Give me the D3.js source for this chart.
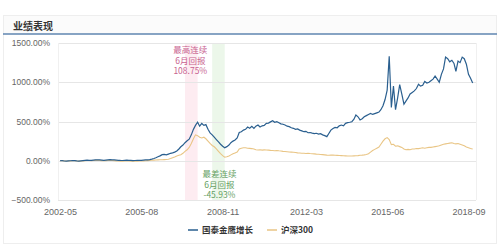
<!DOCTYPE html>
<html>
<head>
<meta charset="utf-8">
<script src="https://d3js.org/d3.v7.min.js"></script>
<style>
    body { margin: 0; background: #fff; }
    text { font-family: "Liberation Sans", "Noto Sans CJK SC", sans-serif; }
    .cjk { font-family: "Noto Sans CJK SC", sans-serif; }
</style>
</head>
<body>
<svg id="chart" width="500" height="250"></svg>
<script>
    // monthly points, 2002-05 .. 2018-11
    var startMonth = new Date(2002, 4, 1);
    var fundValues = [
        0,2,-3,-5,-2,0,3,1,-2,-4,-1,2,5,8,6,4,8,10,12,10,8,6,9,12,14,12,10,8,6,4,3,5,7,6,4,2,3,5,4,6,
        8,10,12,15,20,28,38,50,62,77,
        80,75,85,95,100,110,125,150,178,
        200,230,255,275,330,400,450,490,
        440,475,450,460,400,355,330,300,270,240,210,185,165,
        180,200,230,250,265,290,
        360,370,390,400,430,415,440,413,440,455,430,445,450,477,
        480,495,510,490,497,485,470,465,455,440,
        435,420,413,400,405,390,380,370,375,357,
        360,352,345,350,340,345,330,320,307,350,
        390,410,425,420,445,455,445,477,485,490,
        497,530,583,560,520,535,560,575,590,603,
        590,600,610,620,650,700,780,900,1330,680,
        950,650,800,970,850,720,760,800,850,870,
        890,920,975,950,960,1010,990,1000,1020,1040,
        1080,1040,1000,1100,1170,1320,1300,1260,1280,1240,
        1140,1270,1250,1320,1300,1230,1100,1050,990
    ];
    var hs300Values = [
        0,1,-2,-4,-3,-1,1,0,-3,-5,-3,-1,2,4,3,1,3,5,6,4,2,0,2,4,5,3,1,-1,-3,-5,-6,-4,-3,-4,-6,-7,-6,-5,-4,-3,
        -2,0,2,4,6,8,10,11,12,12,
        14,16,20,28,38,48,60,70,77,
        95,120,140,170,220,280,330,320,
        300,290,300,280,250,220,195,178,150,120,90,65,45,
        50,60,75,90,100,110,
        150,160,165,165,160,158,155,150,140,137,140,135,138,137,
        135,132,130,128,130,127,125,120,118,115,
        112,110,108,105,100,98,96,95,93,95,
        92,90,88,85,83,80,78,75,72,70,
        72,73,70,68,66,65,63,62,60,60,
        60,62,63,65,70,72,75,80,90,110,
        130,145,160,175,210,250,280,295,270,205,
        210,185,190,180,170,150,140,145,140,150,
        150,155,155,160,165,160,165,170,170,175,
        180,185,190,200,210,215,220,225,230,220,
        215,220,210,200,190,175,165,155,150
    ];
    var xTicks = ["2002-05", "2005-08", "2008-11", "2012-03", "2015-06", "2018-09"];
    var yTicks = [-500, 0, 500, 1000, 1500];
    var seriesNames = ["国泰金鹰增长", "沪深300"];
    var bestRange = ["2007-05", "2007-11"];
    var worstRange = ["2008-06", "2008-12"];
    var bestLabel = ["最高连续", "6月回报", "108.75%"];
    var worstLabel = ["最差连续", "6月回报", "-45.93%"];

    var parseMonth = d3.timeParse("%Y-%m");
    var dates = fundValues.map((d, i) => d3.timeMonth.offset(startMonth, i));

    var svg = d3.select("#chart");
    var plot = {left: 58, right: 476, top: 43, bottom: 200};

    var x = d3.scaleTime()
        .domain([parseMonth(xTicks[0]), parseMonth(xTicks[xTicks.length - 1])])
        .range([60, 468.5]);
    var y = d3.scaleLinear()
        .domain([-500, 1500])
        .range([plot.bottom, plot.top]);

    // card frame + title bar
    svg.append("rect").attr("x", 3.5).attr("y", 15.5).attr("width", 493).attr("height", 228)
        .attr("fill", "#fff").attr("stroke", "#eeeeee");
    svg.append("rect").attr("x", 4).attr("y", 16).attr("width", 492).attr("height", 18)
        .attr("fill", "#fbfbfb");
    svg.append("line").attr("x1", 3).attr("x2", 497).attr("y1", 34).attr("y2", 34)
        .attr("stroke", "#5f86b0").attr("stroke-width", 1.5);
    svg.append("text").attr("class", "cjk").attr("x", 13).attr("y", 29.5)
        .attr("font-size", 10).attr("font-weight", "bold").attr("fill", "#333")
        .text("业绩表现");

    // highlighted 6-month windows
    svg.append("rect")
        .attr("x", x(parseMonth(bestRange[0])))
        .attr("width", x(parseMonth(bestRange[1])) - x(parseMonth(bestRange[0])))
        .attr("y", plot.top).attr("height", plot.bottom - plot.top)
        .attr("fill", "#fdecf1");
    svg.append("rect")
        .attr("x", x(parseMonth(worstRange[0])))
        .attr("width", x(parseMonth(worstRange[1])) - x(parseMonth(worstRange[0])))
        .attr("y", plot.top).attr("height", plot.bottom - plot.top)
        .attr("fill", "#ecf7ea");

    // grid
    svg.append("g")
        .selectAll("line")
        .data(yTicks)
        .join("line")
        .attr("x1", plot.left).attr("x2", plot.right)
        .attr("y1", d => Math.round(y(d)) + 0.5).attr("y2", d => Math.round(y(d)) + 0.5)
        .attr("stroke", "#e6e6e6");
    svg.append("line").attr("x1", plot.left + 0.5).attr("x2", plot.left + 0.5)
        .attr("y1", plot.top).attr("y2", plot.bottom).attr("stroke", "#f0f0f0");
    svg.append("line").attr("x1", plot.right + 0.5).attr("x2", plot.right + 0.5)
        .attr("y1", plot.top).attr("y2", plot.bottom).attr("stroke", "#f0f0f0");

    // axes
    var yAxis = svg.append("g")
        .attr("transform", "translate(50,0)")
        .call(d3.axisLeft(y).tickValues(yTicks).tickSize(0).tickFormat(d => d3.format(".2f")(d) + "%"));
    yAxis.select(".domain").remove();
    yAxis.selectAll("text").attr("font-size", 8.5).attr("fill", "#666")
        .attr("font-family", "Liberation Sans, sans-serif").attr("x", 0);

    var xAxis = svg.append("g")
        .attr("transform", "translate(0,206)")
        .call(d3.axisBottom(x).tickValues(xTicks.map(parseMonth)).tickSize(0).tickFormat(d3.timeFormat("%Y-%m")));
    xAxis.select(".domain").remove();
    xAxis.selectAll("text").attr("font-size", 9).attr("fill", "#666")
        .attr("font-family", "Liberation Sans, sans-serif").attr("dy", "0.71em");

    // series
    var line = d3.line()
        .x((d, i) => x(dates[i]))
        .y(d => y(d));
    svg.append("path").datum(hs300Values)
        .attr("d", line).attr("fill", "none")
        .attr("stroke", "#e9c585").attr("stroke-width", 1.1);
    svg.append("path").datum(fundValues)
        .attr("d", line).attr("fill", "none")
        .attr("stroke", "#2a5f8f").attr("stroke-width", 1.2);

    // annotations
    var bestX = (x(parseMonth(bestRange[0])) + x(parseMonth(bestRange[1]))) / 2;
    var worstX = (x(parseMonth(worstRange[0])) + x(parseMonth(worstRange[1]))) / 2;
    svg.append("g")
        .selectAll("text")
        .data(bestLabel)
        .join("text")
        .attr("class", "cjk")
        .attr("x", bestX - 1).attr("y", (d, i) => 53 + i * 10.5)
        .attr("text-anchor", "middle").attr("font-size", 8.5).attr("fill", "#c8628f")
        .text(d => d);
    svg.append("g")
        .selectAll("text")
        .data(worstLabel)
        .join("text")
        .attr("class", "cjk")
        .attr("x", worstX + 1).attr("y", (d, i) => 177 + i * 10.5)
        .attr("text-anchor", "middle").attr("font-size", 8.5).attr("fill", "#64a062")
        .text(d => d);

    // legend
    var legend = [
        {name: seriesNames[0], color: "#2a5f8f", x: 188},
        {name: seriesNames[1], color: "#e9c585", x: 267}
    ];
    var lg = svg.append("g").selectAll("g").data(legend).join("g")
        .attr("transform", d => `translate(${d.x},230)`);
    lg.append("line").attr("x1", 0).attr("x2", 10).attr("y1", 0).attr("y2", 0)
        .attr("stroke", d => d.color).attr("stroke-width", 1.5);
    lg.append("text").attr("class", "cjk").attr("x", 14).attr("y", 3.2)
        .attr("font-size", 8.5).attr("font-weight", "bold").attr("fill", "#333")
        .text(d => d.name);
</script>
</body>
</html>
